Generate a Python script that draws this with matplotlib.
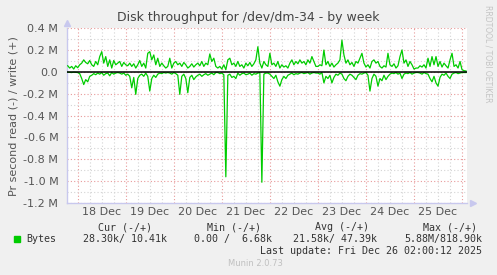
import matplotlib
matplotlib.use("Agg")
import matplotlib.pyplot as plt
import matplotlib.dates as mdates
import matplotlib.ticker as mticker
import pandas as pd
import numpy as np

# hourly samples, Dec 17 19:00 -> Dec 26 02:00 (values in kB/s)
write_k = [57, 36, 51, 27, 57, 39, 66, 81, 111, 87, 75, 105, 66, 51, 96, 66, 141, 186, 81, 141, 51, 111, 36, 105, 66,
           81, 96, 51, 87, 66, 57, 81, 51, 75, 36, 66, 105, 51, 81, 36, 171, 186, 111, 156, 66, 126, 51, 81, 57, 36,
           51, 126, 36, 81, 96, 66, 81, 51, 87, 66, 36, 51, 75, 45, 66, 81, 57, 96, 51, 81, 66, 165, 96, 126, 51,
           36, 51, 27, 66, 21, 111, 126, 66, 81, 51, 96, 51, 66, 36, 81, 57, 87, 51, 75, 111, 231, 81, 36, 96, 66,
           51, 171, 66, 81, 51, 96, 36, 66, 45, 57, 36, 81, 111, 66, 96, 75, 111, 81, 96, 66, 111, 81, 141, 96, 51,
           51, 66, 57, 201, 66, 96, 51, 81, 45, 66, 81, 111, 291, 156, 81, 111, 66, 87, 51, 96, 81, 126, 171, 81, 45,
           66, 36, 96, 111, 81, 96, 51, 36, 57, 45, 171, 66, 51, 75, 36, 57, 141, 201, 81, 111, 51, 96, 66, 27, 36,
           36, 57, 45, 66, 36, 126, 51, 141, 66, 141, 51, 96, 45, 81, 57, 36, 111, 171, 51, 66, 36, 96, 21, 12, 9]
read_k = [-2, -3, -5, -2, -4, -5, -15, -60, -115, -70, -90, -40, -30, -15, -25, -10, -20, -5, -30, -15, -10, -35, -5, -20, -10,
          -5, -10, -20, -10, -30, -20, -40, -145, -50, -205, -60, -30, -20, -40, -10, -40, -175, -60, -30, -50, -20, -10, -15, -5, -10,
          -5, -10, -20, -5, -15, -30, -205, -40, -20, -60, -190, -50, -30, -70, -45, -30, -20, -40, -25, -15, -30, -20, -10, -25, -5,
          -5, -15, -10, -25, -960, -30, -20, -50, -40, -60, -10, -30, -15, -10, -25, -20, -10, -30, -15, -20, -10, -5, -1010, -20, -10,
          -10, -20, -40, -60, -30, -90, -130, -70, -40, -60, -30, -20, -10, -25, -15, -20, -10, -5, -15, -10, -5, -20, -10, -5, -10,
          -10, -20, -5, -100, -40, -60, -30, -100, -50, -20, -30, -10, -20, -60, -80, -40, -20, -30, -50, -70, -30, -15, -20, -10, -5,
          -30, -175, -60, -20, -40, -130, -60, -80, -30, -70, -40, -20, -10, -15, -5, -20, -10, -60, -20, -10, -15, -5, -20, -10, -5,
          -5, -10, -20, -5, -15, -20, -60, -90, -40, -100, -130, -50, -20, -30, -10, -40, -60, -20, -10, -5, -15, -10, -5, -5, -5]
day_labels = ["18 Dec", "19 Dec", "20 Dec", "21 Dec", "22 Dec", "23 Dec", "24 Dec", "25 Dec"]

times = pd.date_range("2025-12-17 19:00", periods=len(write_k), freq="h")
write = np.array(write_k) * 1000.0
read = np.array(read_k) * 1000.0

W, H = 497, 275
fig = plt.figure(figsize=(W / 100, H / 100), dpi=100, facecolor="#F0F0F0")


def fx(x):
    return x / W


def fy(y):
    return 1 - y / H


ax = fig.add_axes([fx(66.7), fy(203), fx(466.7) - fx(66.7), fy(28.3) - fy(203)])
ax.set_facecolor("white")

x0 = pd.Timestamp("2025-12-17 18:30")
x1 = pd.Timestamp("2025-12-26 02:20")
ax.set_xlim(x0, x1)
ax.set_ylim(-1.2e6, 0.4e6)

# grid
ax.xaxis.set_major_locator(mdates.DayLocator())
ax.xaxis.set_minor_locator(mdates.HourLocator(byhour=[6, 12, 18]))
ax.yaxis.set_major_locator(mticker.MultipleLocator(0.2e6))
ax.yaxis.set_minor_locator(mticker.MultipleLocator(0.1e6))
ax.grid(which="minor", color="#D4D4D4", linestyle=(0, (1, 2)), linewidth=0.8)
ax.grid(which="major", color="#E89A9A", linestyle=(0, (1, 2)), linewidth=0.8)
ax.set_axisbelow(True)

ax.plot(times, write, color="#00CC00", lw=0.9, zorder=3)
ax.plot(times, read, color="#00CC00", lw=0.9, zorder=3)
ax.axhline(0, color="black", lw=1.1, zorder=4)

for s in ["top", "right"]:
    ax.spines[s].set_visible(False)
for s in ["left", "bottom"]:
    ax.spines[s].set_color("#C8C8EE")
    ax.spines[s].set_linewidth(1.0)
ax.plot([0], [1.03], marker="^", color="#C8C8EE", ms=5, transform=ax.transAxes, clip_on=False)
ax.plot([1.015], [0], marker=">", color="#C8C8EE", ms=5, transform=ax.transAxes, clip_on=False)

ax.tick_params(which="both", length=0)
ax.tick_params(axis="y", labelsize=8, labelcolor="#555555", pad=6)
ax.set_xticklabels([])


def yfmt(v, pos):
    if abs(v) < 1:
        return "0.0"
    return "%.1f M" % (v / 1e6)


ax.yaxis.set_major_formatter(mticker.FuncFormatter(yfmt))

for k, lab in enumerate(day_labels):
    t = pd.Timestamp("2025-12-18 12:00") + pd.Timedelta(days=k)
    ax.text(t, -0.05, lab, transform=ax.get_xaxis_transform(), ha="center", va="center",
            fontsize=8, color="#555555")

ax.set_ylabel("Pr second read (-) / write (+)", fontsize=8, color="#555555")
ax.yaxis.set_label_coords(-(66.7 - 19) / 400.0, 0.5)

fig.text(0.5, fy(18), "Disk throughput for /dev/dm-34 - by week", ha="center", va="center",
         fontsize=9, color="#444444")
fig.text(fx(488), fy(5), "RRDTOOL / TOBI OETIKER", rotation=270, ha="center", va="top",
         fontsize=5.5, color="#C4C4C4")

mono = dict(family="DejaVu Sans Mono", fontsize=7.2, color="#333333", va="center", ha="left")
fig.text(fx(98), fy(227), "Cur (-/+)", **mono)
fig.text(fx(207), fy(227), "Min (-/+)", **mono)
fig.text(fx(315), fy(227), "Avg (-/+)", **mono)
fig.text(fx(423), fy(227), "Max (-/+)", **mono)
fig.text(fx(26), fy(239), "Bytes", **mono)
fig.text(fx(83), fy(239), "28.30k/ 10.41k", **mono)
fig.text(fx(194), fy(239), "0.00 /  6.68k", **mono)
fig.text(fx(293), fy(239), "21.58k/ 47.39k", **mono)
fig.text(fx(404), fy(239), "5.88M/818.90k", **mono)
fig.text(fx(482), fy(251), "Last update: Fri Dec 26 02:00:12 2025",
         **dict(mono, ha="right"))
fig.patches.append(plt.Rectangle((fx(14), fy(241.5)), fx(6), fy(235.5) - fy(241.5),
                                 transform=fig.transFigure, color="#00CC00"))
fig.text(fx(255), fy(264), "Munin 2.0.73", ha="center", va="center", fontsize=6, color="#C0C0C0")

fig.savefig("out.png", dpi=100, facecolor=fig.get_facecolor())
